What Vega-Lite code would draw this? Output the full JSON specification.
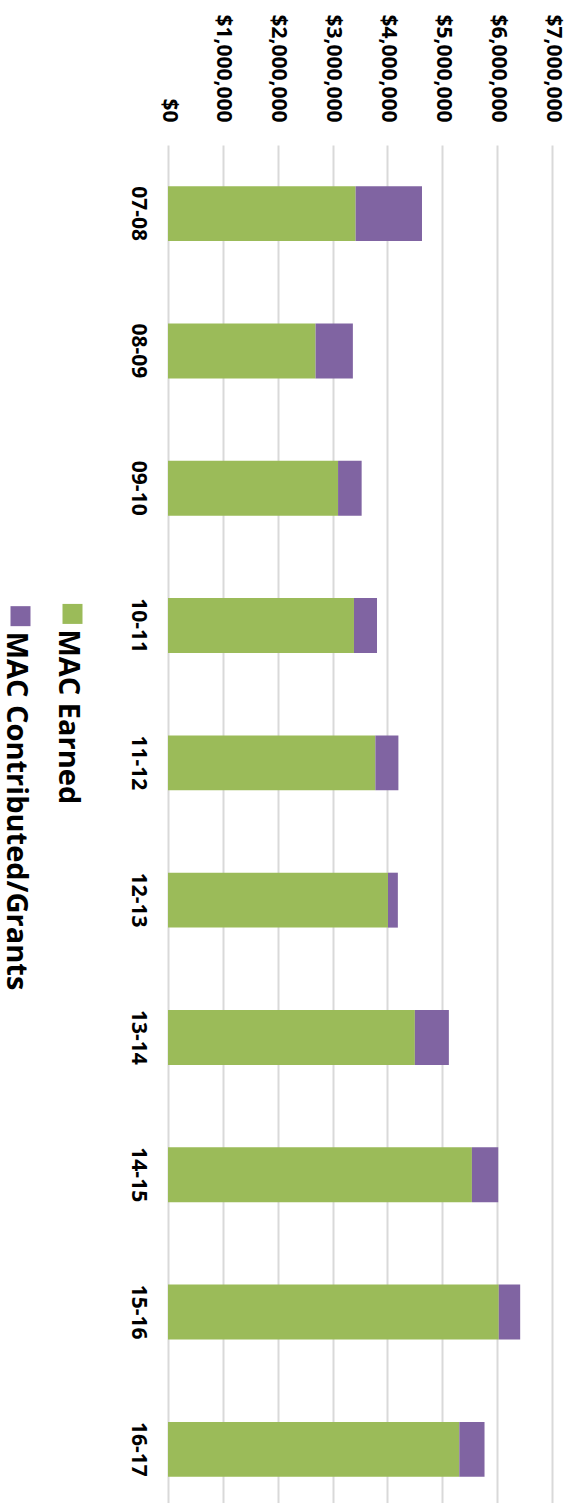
{
  "$schema": "https://vega.github.io/schema/vega-lite/v6.json",
  "width": 384,
  "height": 1373,
  "autosize": {"type": "none"},
  "padding": {"left": 168, "top": 145, "right": 23, "bottom": 0},
  "background": "white",
  "config": {"view": {"stroke": null}, "font": "Open Sans"},
  "data": {
    "values": [
      {"year": "07-08", "series": "MAC Earned", "value": 3420000},
      {"year": "07-08", "series": "MAC Contributed/Grants", "value": 1210000},
      {"year": "08-09", "series": "MAC Earned", "value": 2690000},
      {"year": "08-09", "series": "MAC Contributed/Grants", "value": 680000},
      {"year": "09-10", "series": "MAC Earned", "value": 3100000},
      {"year": "09-10", "series": "MAC Contributed/Grants", "value": 430000},
      {"year": "10-11", "series": "MAC Earned", "value": 3390000},
      {"year": "10-11", "series": "MAC Contributed/Grants", "value": 420000},
      {"year": "11-12", "series": "MAC Earned", "value": 3780000},
      {"year": "11-12", "series": "MAC Contributed/Grants", "value": 420000},
      {"year": "12-13", "series": "MAC Earned", "value": 4010000},
      {"year": "12-13", "series": "MAC Contributed/Grants", "value": 180000},
      {"year": "13-14", "series": "MAC Earned", "value": 4500000},
      {"year": "13-14", "series": "MAC Contributed/Grants", "value": 620000},
      {"year": "14-15", "series": "MAC Earned", "value": 5540000},
      {"year": "14-15", "series": "MAC Contributed/Grants", "value": 480000},
      {"year": "15-16", "series": "MAC Earned", "value": 6030000},
      {"year": "15-16", "series": "MAC Contributed/Grants", "value": 390000},
      {"year": "16-17", "series": "MAC Earned", "value": 5310000},
      {"year": "16-17", "series": "MAC Contributed/Grants", "value": 460000}
    ]
  },
  "mark": {"type": "bar"},
  "encoding": {
    "y": {
      "field": "year",
      "type": "nominal",
      "sort": null,
      "scale": {"paddingInner": 0.6, "paddingOuter": 0.3},
      "axis": {
        "title": null,
        "orient": "left",
        "labelAngle": 90,
        "labelAlign": "center",
        "labelBaseline": "top",
        "labelPadding": 20,
        "ticks": false,
        "domain": false,
        "labelFont": "Open Sans",
        "labelFontSize": 21,
        "labelFontWeight": "bold",
        "labelColor": "#000000"
      }
    },
    "x": {
      "field": "value",
      "type": "quantitative",
      "stack": "zero",
      "scale": {"domain": [0, 7000000], "nice": false},
      "axis": {
        "orient": "top",
        "title": null,
        "values": [0, 1000000, 2000000, 3000000, 4000000, 5000000, 6000000, 7000000],
        "format": "$,.0f",
        "labelAngle": 90,
        "labelAlign": "right",
        "labelBaseline": "middle",
        "labelPadding": 23,
        "labelOverlap": false,
        "labelFlush": false,
        "ticks": false,
        "domain": false,
        "grid": true,
        "gridColor": "#D9D9D9",
        "gridWidth": 2,
        "labelFont": "Open Sans",
        "labelFontSize": 21,
        "labelFontWeight": "bold",
        "labelColor": "#000000"
      }
    },
    "color": {
      "field": "series",
      "type": "nominal",
      "scale": {"domain": ["MAC Contributed/Grants", "MAC Earned"], "range": ["#8064A2", "#9BBB59"]},
      "legend": {
        "orient": "none",
        "legendX": -162,
        "legendY": 454,
        "direction": "horizontal",
        "columns": 2,
        "columnPadding": 22,
        "title": null,
        "padding": 0,
        "symbolType": "square",
        "symbolSize": 400,
        "symbolStrokeWidth": 0,
        "symbolOpacity": 1,
        "labelFont": "Open Sans",
        "labelFontSize": 29,
        "labelFontWeight": "bold",
        "labelColor": "#000000",
        "labelLimit": 600,
        "labelAlign": "left",
        "labelBaseline": "middle",
        "labelExpr": "datum.label == 'MAC Earned' ? datum.label + '                         \u200B' : datum.label",
        "encoding": {
          "labels": {
            "angle": {"value": 90},
            "x": {"value": 10},
            "y": {"value": 30}
          }
        }
      }
    },
    "order": {"field": "series", "sort": "descending"}
  }
}
